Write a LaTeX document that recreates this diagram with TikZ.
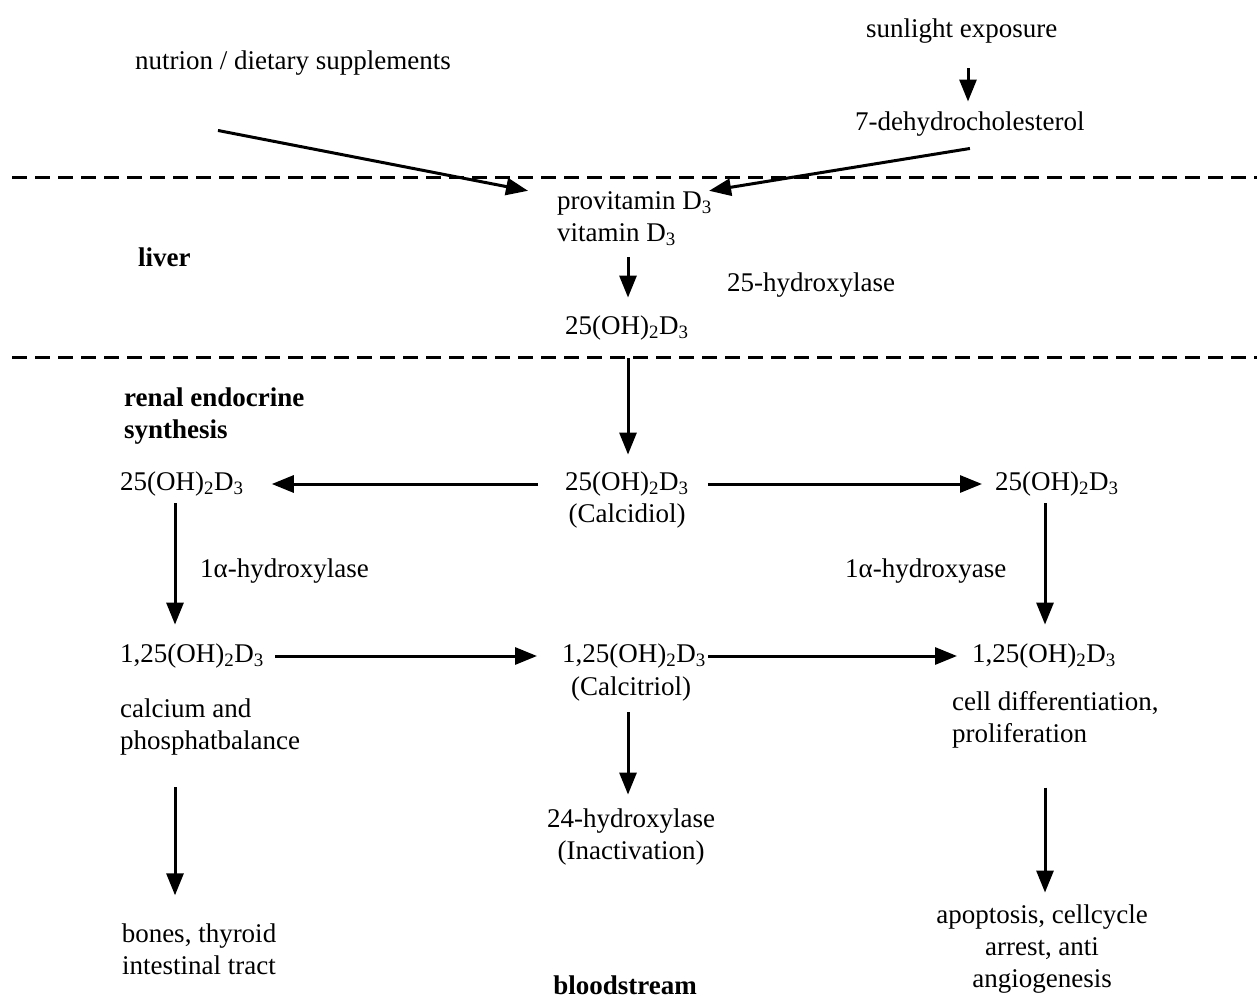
\documentclass[tikz,border=0pt]{standalone}
\usepackage{fontspec}
\setmainfont{Liberation Serif}
\usetikzlibrary{arrows.meta}
\newcommand{\sbs}[1]{\textsubscript{#1}}
\begin{document}
\begin{tikzpicture}[x=1pt,y=-1pt,
  lbl/.style={inner sep=0pt, font=\fontsize{27}{32}\selectfont},
  bld/.style={lbl, font=\fontsize{27}{32}\selectfont\bfseries},
  arr/.style={line width=3pt, -{Triangle[length=22pt,width=17pt]}},
  dsh/.style={line width=3pt, dash pattern=on 15pt off 8pt}]
\useasboundingbox[fill=white] (0,0) rectangle (1257,1000);
% region separators
\draw[dsh] (12,178) -- (1257,178);
\draw[dsh] (12,357) -- (1257,357);
% nodes
\node[lbl, anchor=west] (nut) at (135,63) {nutrion / dietary supplements};
\node[lbl, anchor=west] (sun) at (866,31) {sunlight exposure};
\node[lbl, anchor=west] (dehy) at (855,124) {7-dehydrocholesterol};
\node[lbl, anchor=west, align=left] (prov) at (557,219) {provitamin D\sbs{3}\\vitamin D\sbs{3}};
\node[bld, anchor=west] (liver) at (138,257) {liver};
\node[lbl, anchor=west] (hyd) at (727,285) {25-hydroxylase};
\node[lbl, anchor=west] (oh1) at (565,328) {25(OH)\sbs{2}D\sbs{3}};
\node[bld, anchor=west, align=left] (renal) at (124,416) {renal endocrine\\synthesis};
\node[lbl, anchor=west] (ohL) at (120,484) {25(OH)\sbs{2}D\sbs{3}};
\node[lbl, anchor=west] (ohC) at (565,484) {25(OH)\sbs{2}D\sbs{3}};
\node[lbl] (calcid) at (627,516) {(Calcidiol)};
\node[lbl, anchor=west] (ohR) at (995,484) {25(OH)\sbs{2}D\sbs{3}};
\node[lbl, anchor=west] (haL) at (200,571) {1α-hydroxylase};
\node[lbl, anchor=west] (haR) at (845,571) {1α-hydroxyase};
\node[lbl, anchor=west] (dL) at (120,656) {1,25(OH)\sbs{2}D\sbs{3}};
\node[lbl, anchor=west] (dC) at (562,656) {1,25(OH)\sbs{2}D\sbs{3}};
\node[lbl] (calcit) at (631,689) {(Calcitriol)};
\node[lbl, anchor=west] (dR) at (972,656) {1,25(OH)\sbs{2}D\sbs{3}};
\node[lbl, anchor=west, align=left] (calc) at (120,727) {calcium and\\phosphatbalance};
\node[lbl, anchor=west, align=left] (cell) at (952,720) {cell differentiation,\\proliferation};
\node[lbl, align=center] (inact) at (631,837) {24-hydroxylase\\(Inactivation)};
\node[lbl, align=center] (bones) at (199,949) {bones, thyroid\\intestinal tract};
\node[lbl, align=center] (apop) at (1042,949) {apoptosis, cellcycle\\arrest, anti\\angiogenesis};
\node[bld] (blood) at (625,985) {bloodstream};
% connectors
\draw[arr] ([xshift=83pt,yshift=-55pt]nut.south west) -- ([xshift=-29pt,yshift=1pt]prov.north west);
\draw[arr] ([yshift=-12pt]dehy.south) -- ([xshift=-3pt,yshift=1pt]prov.north east);
\draw[arr] ([xshift=102pt,yshift=-25pt]sun.south west) -- ([xshift=113pt,yshift=10pt]dehy.north west);
\draw[arr] ([xshift=71pt,yshift=-11pt]prov.south west) -- ([xshift=63pt,yshift=18pt]oh1.north west);
\draw[arr] ([xshift=63pt,yshift=-18pt]oh1.south west) -- ([xshift=63pt,yshift=17pt]ohC.north west);
\draw[arr] ([xshift=-27pt]ohC.west) -- ([xshift=28pt]ohL.east);
\draw[arr] ([xshift=19pt]ohC.east) -- ([xshift=-13pt]ohR.west);
\draw[arr] ([xshift=55pt,yshift=-7pt]ohL.south west) -- ([xshift=55pt,yshift=19pt]dL.north west);
\draw[arr] ([xshift=50pt,yshift=-7pt]ohR.south west) -- ([xshift=73pt,yshift=19pt]dR.north west);
\draw[arr] ([xshift=11pt]dL.east) -- ([xshift=-25pt]dC.west);
\draw[arr] ([xshift=2pt]dC.east) -- ([xshift=-15pt]dR.west);
\draw[arr] ([xshift=-3pt,yshift=-11pt]calcit.south) -- ([xshift=-3pt,yshift=14pt]inact.north);
\draw[arr] ([xshift=55pt,yshift=-32pt]calc.south west) -- ([xshift=-24pt,yshift=28pt]bones.north);
\draw[arr] ([xshift=93pt,yshift=-39pt]cell.south west) -- ([xshift=3pt,yshift=12pt]apop.north);
\end{tikzpicture}
\end{document}
